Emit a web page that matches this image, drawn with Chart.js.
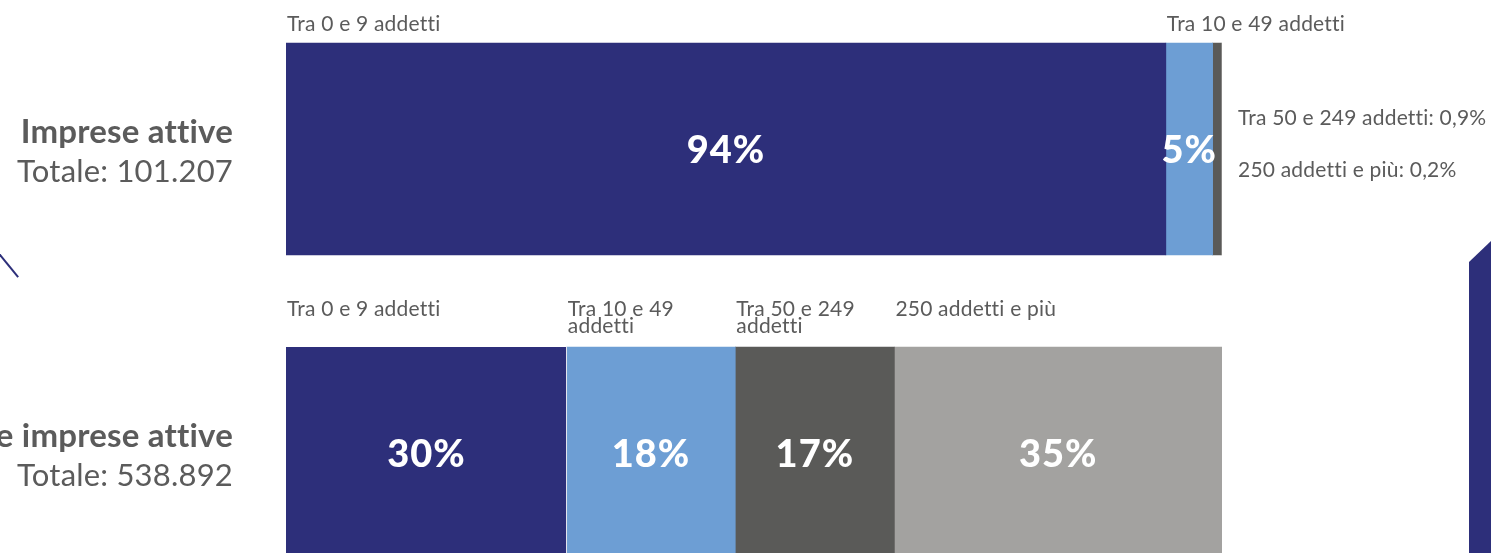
<!DOCTYPE html>
<html lang="it">
<head>
<meta charset="utf-8">
<title>Imprese attive e addetti per classe di addetti</title>
<script src="https://cdn.jsdelivr.net/npm/chart.js@4/dist/chart.umd.min.js"></script>
<style>
  html, body { margin: 0; padding: 0; background: #ffffff; overflow: hidden; }
  body { width: 1491px; height: 553px; position: relative; }
  #wrap { position: absolute; left: 0; top: -3px; width: 1491px; height: 608px; }
  .deco-line {
    position: absolute; left: -4px; top: 249px; width: 35px; height: 2px;
    background: #2d2f7a; transform: rotate(50.7deg); transform-origin: left center;
  }
  .deco-clip { position: absolute; left: 0; top: 0; width: 19px; height: 553px; overflow: hidden; }
  .deco-band {
    position: absolute; left: 1469px; top: 241px; width: 22px; height: 312px;
    background: #2d2f7a; clip-path: polygon(0 21px, 100% 0, 100% 100%, 0 100%);
  }
</style>
</head>
<body>
<div class="deco-clip"><div class="deco-line"></div></div>
<div class="deco-band"></div>
<div id="wrap"><canvas id="chart"></canvas></div>
<script>
// Rows of the chart and their totals
const rows = ['Imprese attive', 'Addetti delle imprese attive'];
const rowTotals = ['Totale: 101.207', 'Totale: 538.892'];

// Size classes (number of employees)
const sizeClasses = ['Tra 0 e 9 addetti', 'Tra 10 e 49 addetti', 'Tra 50 e 249 addetti', '250 addetti e più'];

// Percentage shares per class
const impreseShare = [94, 5, 0.9, 0.2];
const addettiShare = [30, 18, 17, 35];

// Headings printed over each segment, one array of lines per class
const impreseHeads = [['Tra 0 e 9 addetti'], ['Tra 10 e 49 addetti'], null, null];
const addettiHeads = [['Tra 0 e 9 addetti'], ['Tra 10 e 49', 'addetti'], ['Tra 50 e 249', 'addetti'], ['250 addetti e più']];

const classColors = ['#2d2f7a', '#6d9ed4', '#5a5a58', '#a3a2a0'];
const TEXT = '#5b5b5b';
const FONT = 'Lato, "Open Sans", sans-serif';

const datasets = sizeClasses.map((name, i) => ({
  label: name,
  data: [impreseShare[i], addettiShare[i]],
  backgroundColor: classColors[i],
  borderColor: '#ffffff',
  borderWidth: (ctx) => (i === 0 && ctx.dataIndex === 1) ? { right: 1, left: 0, top: 0, bottom: 0 } : 0,
  borderSkipped: false,
  barThickness: 212
}));

const fmtPct = (v) => String(v).replace('.', ',') + '%';

// small letter spacing keeps "tt"/"tti" as separate glyphs
function setText(ctx, font, color, align, baseline) {
  ctx.font = font;
  ctx.fillStyle = color;
  ctx.textAlign = align;
  ctx.textBaseline = baseline;
  ctx.letterSpacing = '0.2px';
}

const labelPlugin = {
  id: 'segmentLabels',
  afterDatasetsDraw(chart) {
    const ctx = chart.ctx;
    const area = chart.chartArea;
    const yScale = chart.scales.y;
    const headsByRow = [impreseHeads, addettiHeads];
    ctx.save();

    // Row titles on the left
    rows.forEach((title, r) => {
      const cy = yScale.getPixelForValue(r);
      setText(ctx, 'bold 33px ' + FONT, TEXT, 'right', 'alphabetic');
      ctx.fillText(title, area.left - 53, cy - 6);
      setText(ctx, '31px ' + FONT, TEXT, 'right', 'alphabetic');
      ctx.fillText(rowTotals[r], area.left - 53, cy + 33);
    });

    const outside = [];
    chart.data.datasets.forEach((ds, i) => {
      const meta = chart.getDatasetMeta(i);
      meta.data.forEach((bar, r) => {
        const p = bar.getProps(['x', 'y', 'base', 'height'], true);
        const left = Math.min(p.x, p.base);
        const right = Math.max(p.x, p.base);
        const top = p.y - p.height / 2;
        const value = ds.data[r];
        const heads = headsByRow[r];
        if (value >= 2) {
          // value inside the segment
          setText(ctx, '900 38px ' + FONT, '#ffffff', 'center', 'middle');
          ctx.letterSpacing = '1px';
          ctx.fillText(Math.round(value) + '%', (left + right) / 2, p.y + 2);
        } else {
          outside.push({ r, i, value, y: p.y });
        }
        // class heading over the segment
        const lines = heads[i];
        if (lines) {
          const maxLines = Math.max(...heads.filter(Boolean).map(l => l.length));
          const lastBase = top - (maxLines > 1 ? 14 : 12);
          setText(ctx, '21px ' + FONT, TEXT, 'left', 'alphabetic');
          lines.forEach((line, k) => {
            ctx.fillText(line, left + 1, lastBase - 17 * (maxLines - 1) + 17 * k);
          });
        }
      });
    });

    // Small shares listed to the right of the bar
    outside.forEach((o, k) => {
      setText(ctx, '21px ' + FONT, TEXT, 'left', 'middle');
      ctx.fillText(sizeClasses[o.i] + ': ' + fmtPct(o.value), area.right + 16, o.y - 31 + 52 * k);
    });
    ctx.restore();
  }
};

new Chart(document.getElementById('chart'), {
  type: 'bar',
  data: { labels: rows, datasets },
  options: {
    indexAxis: 'y',
    responsive: true,
    maintainAspectRatio: false,
    animation: false,
    layout: { padding: { left: 286, right: 269, top: 0, bottom: 0 } },
    scales: {
      x: { stacked: true, min: 0, max: 100, display: false },
      y: { stacked: true, display: false }
    },
    plugins: {
      legend: { display: false },
      tooltip: { enabled: false }
    }
  },
  plugins: [labelPlugin]
});
</script>
</body>
</html>
